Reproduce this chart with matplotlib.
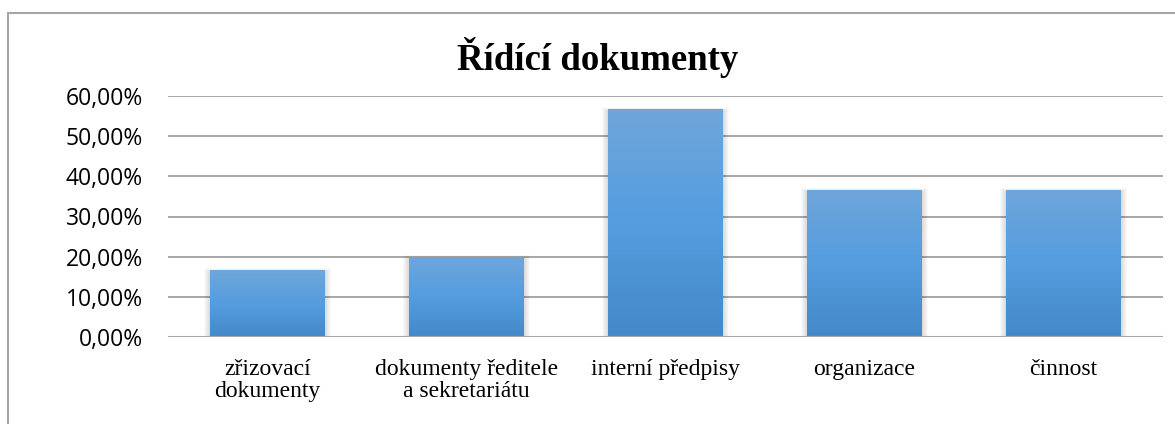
import numpy as np
import matplotlib.pyplot as plt
from matplotlib.patches import Rectangle
from matplotlib.colors import LinearSegmentedColormap
from matplotlib.ticker import FuncFormatter

# data
categories = ['zřizovací\ndokumenty', 'dokumenty ředitele\na sekretariátu',
              'interní předpisy', 'organizace', 'činnost']
values = [16.67, 20.0, 56.67, 36.67, 36.67]
yticks = [0, 10, 20, 30, 40, 50, 60]

fig = plt.figure(figsize=(11.75, 4.24), dpi=100)
ax = fig.add_axes([168/1175, 87/424, (1163-168)/1175, (337-96)/424])

# outer chart frame
fig.patches.append(Rectangle((8/1175, -0.1), 1.2, (424-13)/424 + 0.1,
                             transform=fig.transFigure, fill=False,
                             edgecolor='#a6a6a6', linewidth=1.5))

x = np.arange(len(categories))
w = 0.575
cmap = LinearSegmentedColormap.from_list('bar', ['#4488c8', '#549ddf', '#6fa6da'])
grad = np.linspace(0, 1, 256).reshape(-1, 1)
px = 1 / 199          # one pixel in x data units
py = 60 / 241         # one pixel in y data units

for xi, v in zip(x, values):
    # soft shadow around the bar
    for k in range(1, 7):
        ax.add_patch(Rectangle((xi - w/2 - k*px, 0), w + 2*k*px, v - 2*py + k*py*0.6,
                               facecolor='k', alpha=0.022, edgecolor='none', zorder=2))
    bar = Rectangle((xi - w/2, 0), w, v, facecolor='none', edgecolor='none', zorder=3)
    ax.add_patch(bar)
    im = ax.imshow(grad, cmap=cmap, aspect='auto', origin='lower',
                   extent=[xi - w/2, xi + w/2, 0, v], zorder=3)
    im.set_clip_path(bar)

ax.set_xlim(-0.5, len(categories) - 0.5)
ax.set_ylim(0, 60)
ax.set_yticks(yticks)
ax.yaxis.set_major_formatter(FuncFormatter(lambda v, p: f'{v:.2f}%'.replace('.', ',')))
ax.set_xticks(x)
ax.set_xticklabels(categories, fontfamily='Liberation Serif', fontsize=17,
                   linespacing=1.05)
for lab in ax.get_yticklabels():
    lab.set_fontfamily('Open Sans')
    lab.set_fontsize(16.5)
ax.tick_params(length=0)
ax.tick_params(axis='y', pad=18)
ax.tick_params(axis='x', pad=16)
ax.grid(axis='y', color='#a0a0a0', linewidth=1.3, zorder=1)
ax.set_axisbelow(True)
for s in ax.spines.values():
    s.set_visible(False)
ax.axhline(0, color='#a6a6a6', linewidth=1.5, zorder=4)

fig.text(598/1175, 1 - 57/424, 'Řídící dokumenty', ha='center', va='center',
         fontfamily='Liberation Serif', fontweight='bold', fontsize=26.5)

fig.savefig('out.png', dpi=100)
